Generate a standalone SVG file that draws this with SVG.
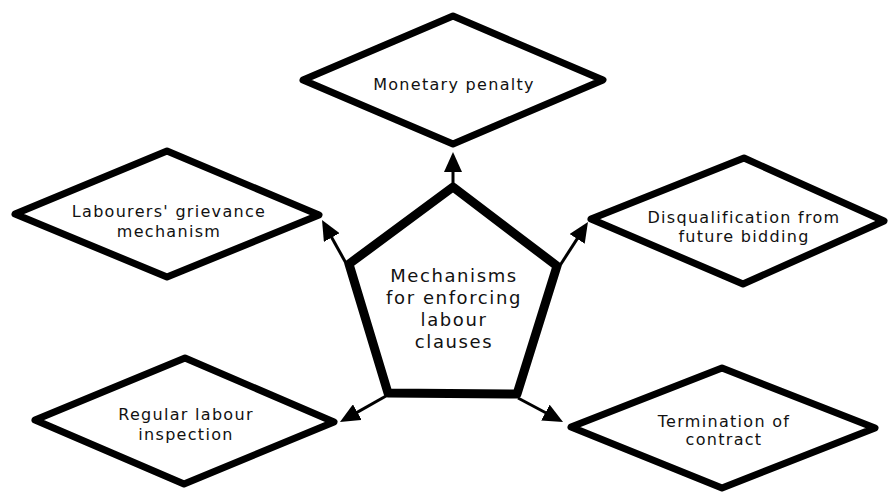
<svg xmlns="http://www.w3.org/2000/svg" width="890" height="492" viewBox="0 0 890 492">
  <style>
    .dia { fill: #fff; stroke: #000; stroke-width: 7; stroke-linejoin: round; }
    .pent { fill: #fff; stroke: #000; stroke-width: 9; stroke-linejoin: round; }
    .lbl { font-family: "DejaVu Sans", Verdana, sans-serif; font-size: 16px; letter-spacing: 1.3px; fill: #111; text-anchor: middle; }
    .ctr { font-family: "DejaVu Sans", Verdana, sans-serif; font-size: 18px; letter-spacing: 1.6px; fill: #111; text-anchor: middle; }
    .conn { stroke: #000; stroke-width: 3; fill: none; marker-end: url(#arr); }
  </style>
  <defs>
    <marker id="arr" viewBox="0 0 20 18" refX="11" refY="9" markerWidth="20" markerHeight="18" markerUnits="userSpaceOnUse" orient="auto">
      <path d="M0,0 L20,9 L0,18 z" fill="#000"/>
    </marker>
  </defs>
  <rect width="890" height="492" fill="#fff"/>

  <g id="connectors">
    <line class="conn" x1="453" y1="185" x2="453" y2="161"/>
    <line class="conn" x1="347" y1="265" x2="326.4" y2="227.9"/>
    <line class="conn" x1="559" y1="267" x2="583.1" y2="229.6"/>
    <line class="conn" x1="386" y1="396" x2="347.8" y2="417.6"/>
    <line class="conn" x1="518" y1="398" x2="555.1" y2="417.8"/>
  </g>

  <g id="center">
    <polygon class="pent" points="453,187 557,266 517,394 388,393 349,264"/>
    <text class="ctr" x="454" y="282">Mechanisms</text>
    <text class="ctr" x="454" y="304">for enforcing</text>
    <text class="ctr" x="454" y="326">labour</text>
    <text class="ctr" x="454" y="348">clauses</text>
  </g>

  <g id="monetary">
    <polygon class="dia" points="453,16 603,80 453,144 303,80"/>
    <text class="lbl" x="454" y="90">Monetary penalty</text>
  </g>

  <g id="grievance">
    <polygon class="dia" points="167,151 319,215 167,277 15,214"/>
    <text class="lbl" x="169" y="217">Labourers' grievance</text>
    <text class="lbl" x="169" y="237">mechanism</text>
  </g>

  <g id="disqualification">
    <polygon class="dia" points="744,158 884,221 743,284 591,219"/>
    <text class="lbl" x="744" y="223">Disqualification from</text>
    <text class="lbl" x="744" y="242">future bidding</text>
  </g>

  <g id="inspection">
    <polygon class="dia" points="185,358 334,422 184,484 35,420"/>
    <text class="lbl" x="186" y="420">Regular labour</text>
    <text class="lbl" x="186" y="440">inspection</text>
  </g>

  <g id="termination">
    <polygon class="dia" points="722,368 875,428 722,488 571,427"/>
    <text class="lbl" x="724" y="427">Termination of</text>
    <text class="lbl" x="724" y="445">contract</text>
  </g>
</svg>
